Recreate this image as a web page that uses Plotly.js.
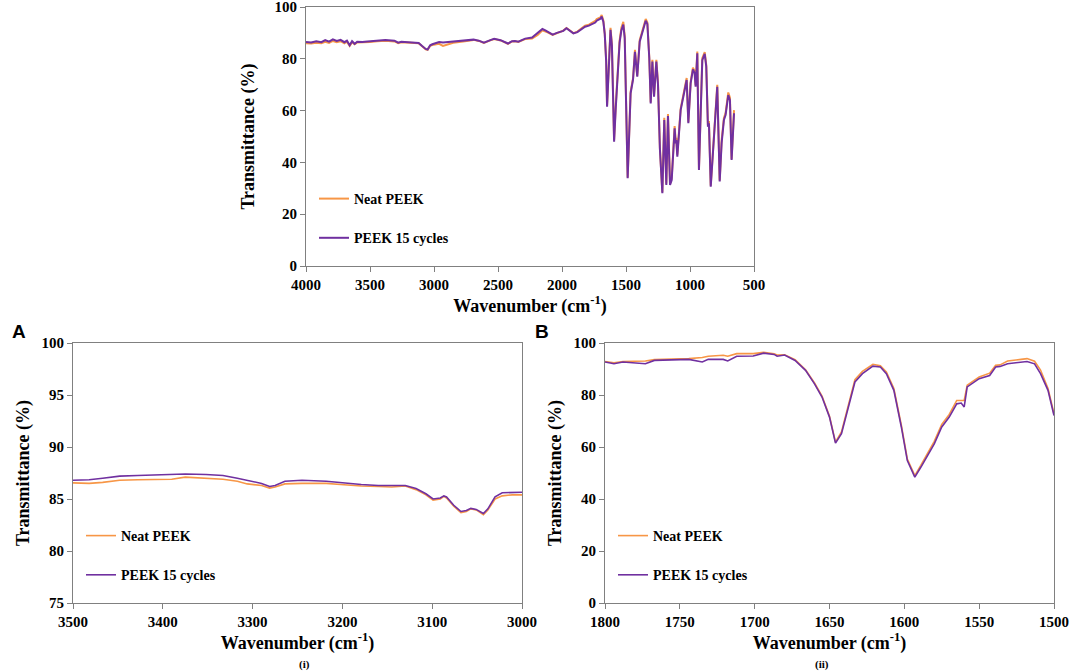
<!DOCTYPE html>
<html>
<head>
<meta charset="utf-8">
<script src="https://cdn.plot.ly/plotly-3.0.1.min.js"></script>
<style>html,body{margin:0;padding:0;background:#fff;}#chart{width:1072px;height:672px;}</style>
</head>
<body>
<div id="chart"></div>
<script>
// ---------- DATA ----------
const seriesNames = ["Neat PEEK", "PEEK 15 cycles"];

// Full spectrum (top panel)
const wnFull = [4000,3960,3920,3880,3850,3820,3790,3760,3730,3700,
  3680,3659,3640,3620,3600,3560,3520,3500,3444,3380,
  3309,3280,3255,3175,3120,3095,3065,3050,3030,3013,
  2960,2930,2906,2850,2772,2691,2650,2610,2560,2530,
  2480,2422,2390,2368,2341,2288,2234,2190,2153,2130,
  2113,2073,2040,2019,1990,1965,1940,1911,1880,1858,
  1820,1790,1768,1740,1729,1700,1690,1677,1666,1655,
  1648,1640,1621,1610,1600,1593,1580,1560,1550,1536,1521,1510,
  1500,1487,1464,1445,1430,1421,1412,1393,1346,1333,
  1318,1307,1294,1281,1263,1250,1235,1216,1201,1185,
  1172,1156,1143,1120,1112,1107,1099,1073,1047,1026,
  1013,995,977,964,956,943,930,904,885,873,
  860,852,838,813,787,768,753,735,722,701,
  688,675,656];
const neatFull = [86.0,85.9,86.2,86.0,86.6,86.1,86.9,86.4,86.8,86.0,
  86.6,85.0,86.4,85.6,86.3,86.3,86.4,86.5,86.8,87.0,
  86.7,86.0,86.4,86.2,86.0,84.9,83.7,83.5,85.0,85.3,
  85.8,85.0,85.3,86.2,86.7,87.3,86.9,86.1,87.1,87.6,
  87.1,85.8,86.7,86.8,86.5,87.6,87.8,89.2,91.0,90.6,
  90.2,89.2,89.9,90.4,90.9,91.9,91.1,89.9,90.5,91.4,
  92.8,93.2,93.8,94.6,95.3,96.0,96.9,94.8,89.8,79.5,
  62.0,71.0,92.0,85.5,61.0,48.8,62.0,77.5,87.0,92.0,94.3,88.8,
  60.5,34.2,67.2,72.5,83.5,78.5,73.5,87.2,95.4,94.0,
  80.5,63.2,79.6,65.8,79.6,70.5,45.5,28.5,57.2,31.8,
  58.7,31.8,34.0,54.0,48.5,49.5,43.0,60.8,67.2,72.6,
  55.5,71.0,76.6,75.2,69.8,82.8,37.5,80.2,82.6,77.6,
  54.5,56.0,31.0,52.0,70.0,33.0,48.5,57.2,59.0,67.0,
  65.0,41.2,60.2];
const cycFull = [86.5,86.3,86.8,86.4,87.2,86.6,87.5,86.9,87.3,86.4,
  87.0,85.2,86.8,85.8,86.6,86.5,86.7,86.8,87.1,87.3,
  87.0,86.2,86.6,86.4,86.1,85.0,83.8,83.6,85.2,85.6,
  86.5,86.3,86.4,86.8,86.9,87.4,87.0,86.2,87.2,87.7,
  87.2,85.9,86.8,86.9,86.6,87.8,88.2,89.8,91.5,91.0,
  90.4,89.3,90.0,90.4,90.8,91.8,91.0,89.8,90.3,91.0,
  92.4,92.8,93.4,94.0,94.7,95.5,96.3,94.3,89.5,79.0,
  61.5,70.0,91.2,85.0,60.0,48.0,61.0,75.7,86.3,91.0,93.2,88.0,
  60.0,33.9,66.7,72.0,82.7,78.0,73.1,86.6,94.7,93.4,
  80.0,62.8,78.9,65.4,78.9,70.0,45.0,28.1,56.4,31.3,
  57.9,31.3,33.2,53.2,47.4,48.6,42.2,60.2,66.7,71.8,
  55.1,70.5,75.9,74.4,69.2,82.1,37.1,79.5,81.9,77.0,
  53.8,55.1,30.6,51.2,69.2,32.6,47.4,56.4,58.3,66.0,
  64.0,40.9,59.0];

// Panel A (i): 3500-3000 cm-1
const wnA = [3500,3482,3467,3448,3428,3409,3390,3375,3352,3333,
  3317,3306,3290,3281,3275,3264,3245,3218,3202,3179,
  3160,3145,3130,3118,3107,3099,3091,3087,3084,3076,
  3068,3062,3057,3051,3043,3038,3030,3022,3011,3000];
const neatA = [86.55,86.5,86.6,86.8,86.85,86.9,86.9,87.1,87.0,86.9,
  86.7,86.45,86.3,86.05,86.15,86.45,86.5,86.5,86.4,86.25,
  86.2,86.15,86.25,85.9,85.4,84.9,85.0,85.25,85.1,84.3,
  83.7,83.8,84.05,83.95,83.5,83.95,85.0,85.3,85.4,85.4];
const cycA = [86.8,86.85,87.0,87.2,87.26,87.3,87.35,87.4,87.35,87.26,
  87.0,86.8,86.5,86.2,86.3,86.7,86.8,86.7,86.55,86.4,
  86.3,86.3,86.3,86.0,85.5,85.0,85.1,85.3,85.2,84.4,
  83.8,83.9,84.1,84.0,83.6,84.05,85.2,85.6,85.65,85.65];

// Panel B (ii): 1800-1500 cm-1
const wnB = [1800,1794,1788,1779,1773,1767,1756,1744,1735,1731,
  1721,1718,1712,1701,1694,1687,1685,1680,1673,1666,
  1660,1655,1650,1646,1642,1638,1633,1628,1621,1616,
  1612,1607,1602,1598,1593,1589,1584,1580,1575,1570,
  1565,1562,1560,1558,1550,1543,1539,1536,1531,1522,
  1518,1513,1509,1504,1500];
const neatB = [92.9,92.4,92.9,92.9,93.1,93.6,93.7,94.0,94.4,94.9,
  95.3,94.9,95.9,95.9,96.4,95.9,95.4,95.5,93.6,89.7,
  84.6,79.6,71.8,61.9,65.8,75.1,85.9,89.1,91.8,91.3,
  88.9,82.5,68.4,55.4,49.0,52.9,58.4,62.2,68.7,72.5,
  77.9,78.0,77.9,83.8,86.9,88.4,91.4,91.6,93.1,93.7,
  94.0,93.0,89.6,82.5,72.8];
const cycB = [92.7,92.0,92.7,92.4,92.0,93.3,93.6,93.7,92.7,93.7,
  93.7,93.1,94.9,95.0,96.1,95.6,94.9,95.4,93.3,89.5,
  84.3,79.2,71.5,61.5,65.1,74.1,85.0,88.2,91.1,90.8,
  88.2,81.8,67.7,54.8,48.4,52.2,57.4,61.2,67.7,71.5,
  76.6,76.9,75.4,83.1,86.3,87.5,90.8,91.0,92.0,92.7,
  92.9,92.0,88.2,81.8,72.1];

// ---------- STYLE ----------
const W = 1072, H = 672;
const cNeat = "#F79646", cCyc = "#7030A0";
const serif = "Liberation Serif";
const sans = "Liberation Sans";
const fx = p => p / W, fy = p => 1 - p / H;

function tr(x, y, name, color, xa, ya, leg, grp, w) {
  return {x: x, y: y, name: name, type: "scatter", mode: "lines",
    line: {color: color, width: w}, xaxis: xa, yaxis: ya,
    legend: leg, legendgroup: grp, hoverinfo: "x+y"};
}
const data = [
  tr(wnFull, neatFull, seriesNames[0], cNeat, "x", "y", "legend", "a1", 2),
  tr(wnFull, cycFull, seriesNames[1], cCyc, "x", "y", "legend", "a2", 2),
  tr(wnA, neatA, seriesNames[0], cNeat, "x2", "y2", "legend2", "b1", 1.6),
  tr(wnA, cycA, seriesNames[1], cCyc, "x2", "y2", "legend2", "b2", 1.6),
  tr(wnB, neatB, seriesNames[0], cNeat, "x3", "y3", "legend3", "c1", 1.6),
  tr(wnB, cycB, seriesNames[1], cCyc, "x3", "y3", "legend3", "c2", 1.6)
];

const xTitle = "Wavenumber (cm<sup>-1</sup>)";
const yTitle = "Transmittance (%)";
function ax(extra) {
  return Object.assign({
    showline: true, linecolor: "#808080", linewidth: 1, mirror: true,
    ticks: "outside", ticklen: 5, tickcolor: "#808080", tickwidth: 1,
    showgrid: false, zeroline: false, automargin: false,
    ticklabeloverflow: "allow",
    tickfont: {family: serif, size: 15, color: "#000", weight: "bold"}
  }, extra);
}
const titleFont = {family: serif, size: 18, color: "#000", weight: "bold"};
const legFont = {family: serif, size: 14, color: "#000", weight: "bold"};
function leg(x, y) {
  return {x: fx(x), y: fy(y), xanchor: "left", yanchor: "top", xref: "paper", yref: "paper",
    bgcolor: "rgba(0,0,0,0)", font: legFont, tracegroupgap: 18, itemwidth: 30};
}

const layout = {
  width: W, height: H, margin: {l: 0, r: 0, t: 0, b: 0},
  paper_bgcolor: "#fff", plot_bgcolor: "#fff",
  showlegend: true,
  font: {family: serif, color: "#000"},
  xaxis: ax({domain: [fx(306), fx(754)], anchor: "y", range: [4000, 500], tick0: 0, dtick: 500,
    title: {text: xTitle, font: titleFont, standoff: 3}}),
  yaxis: ax({domain: [fy(266), fy(7)], anchor: "x", range: [0, 100], tick0: 0, dtick: 20,
    title: {text: yTitle, font: titleFont, standoff: 15}}),
  xaxis2: ax({domain: [fx(73), fx(522)], anchor: "y2", range: [3500, 3000], tick0: 0, dtick: 100,
    title: {text: xTitle, font: titleFont, standoff: 3}}),
  yaxis2: ax({domain: [fy(603), fy(343)], anchor: "x2", range: [75, 100], tick0: 0, dtick: 5,
    title: {text: yTitle, font: titleFont, standoff: 7}}),
  xaxis3: ax({domain: [fx(605), fx(1054)], anchor: "y3", range: [1800, 1500], tick0: 0, dtick: 50,
    title: {text: xTitle, font: titleFont, standoff: 3}}),
  yaxis3: ax({domain: [fy(603), fy(343)], anchor: "x3", range: [0, 100], tick0: 0, dtick: 20,
    title: {text: yTitle, font: titleFont, standoff: 7}}),
  legend: leg(314, 183),
  legend2: leg(81, 520),
  legend3: leg(613, 520),
  annotations: [
    {text: "A", x: fx(10), y: fy(331), xref: "paper", yref: "paper", showarrow: false,
      font: {family: sans, size: 19, color: "#000", weight: "bold"}},
    {text: "B", x: fx(542), y: fy(331), xref: "paper", yref: "paper", showarrow: false,
      font: {family: sans, size: 19, color: "#000", weight: "bold"}},
    {text: "(i)", x: fx(297.5), y: 0, yanchor: "bottom", xref: "paper", yref: "paper", showarrow: false,
      borderpad: 0, font: {family: serif, size: 11, color: "#000", weight: "bold"}},
    {text: "(ii)", x: fx(829.5), y: 0, yanchor: "bottom", xref: "paper", yref: "paper", showarrow: false,
      borderpad: 0, font: {family: serif, size: 11, color: "#000", weight: "bold"}}
  ]
};

Plotly.newPlot("chart", data, layout, {displayModeBar: false, staticPlot: true});
</script>
</body>
</html>
